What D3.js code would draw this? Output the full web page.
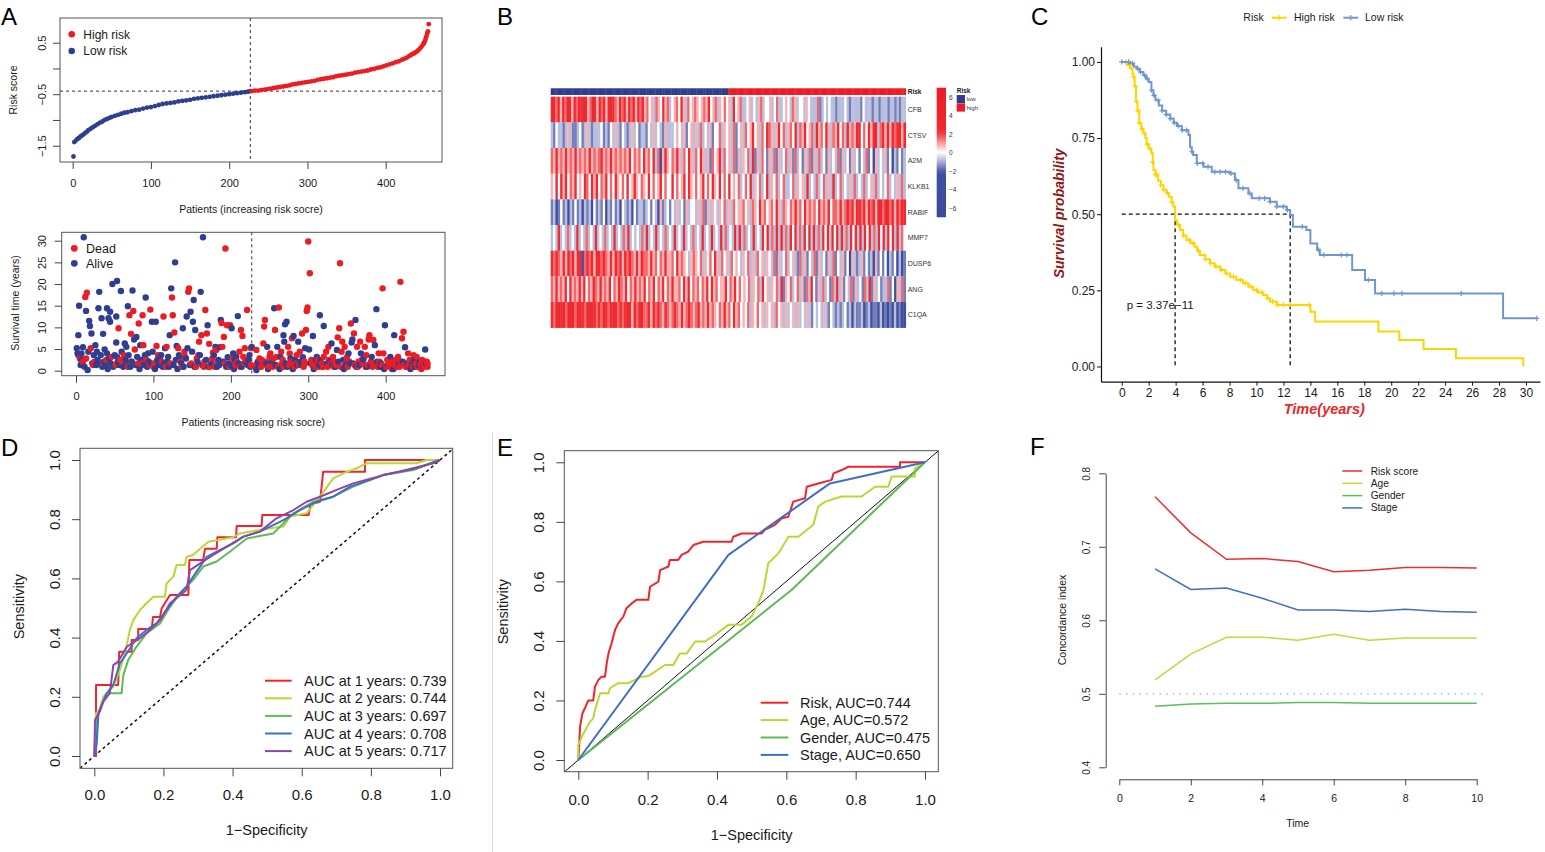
<!DOCTYPE html>
<html>
<head>
<meta charset="utf-8">
<script src="https://cdn.jsdelivr.net/npm/d3@7"></script>
<style>
  body { margin: 0; background: #fff; }
  svg { display: block; font-family: "Liberation Sans", Arial, sans-serif; }
</style>
</head>
<body>
<svg id="fig" width="1545" height="852"></svg>
<script>
// ---------------- data ----------------
// A: risk score per patient (index, score), sorted
const riskScores = [[1,-1.71],[2,-1.43],[4,-1.40],[6,-1.37],[8,-1.35],[10,-1.32],[12,-1.30],[14,-1.28],[16,-1.25],[18,-1.23],[20,-1.20],[23,-1.17],[26,-1.14],[29,-1.11],[32,-1.08],[35,-1.05],[38,-1.03],[41,-1.00],[44,-0.98],[47,-0.96],[50,-0.94],[54,-0.92],[58,-0.90],[62,-0.88],[66,-0.86],[70,-0.85],[75,-0.83],[80,-0.81],[85,-0.80],[90,-0.78],[95,-0.76],[100,-0.75],[105,-0.73],[110,-0.71],[115,-0.69],[120,-0.68],[125,-0.67],[130,-0.66],[135,-0.64],[140,-0.63],[145,-0.62],[150,-0.61],[155,-0.59],[160,-0.58],[165,-0.57],[170,-0.56],[175,-0.55],[180,-0.54],[185,-0.53],[190,-0.52],[195,-0.51],[200,-0.50],[205,-0.49],[210,-0.48],[215,-0.47],[220,-0.46],[224,-0.45],[227,-0.44],
  [229,-0.44],[233,-0.43],[237,-0.43],[241,-0.42],[245,-0.41],[249,-0.40],[253,-0.39],[257,-0.38],[261,-0.37],[265,-0.36],[269,-0.35],[273,-0.34],[277,-0.33],[281,-0.31],[285,-0.30],[289,-0.29],[293,-0.28],[297,-0.27],[301,-0.26],[305,-0.25],[309,-0.24],[313,-0.22],[317,-0.21],[321,-0.20],[325,-0.19],[329,-0.18],[333,-0.17],[337,-0.15],[341,-0.14],[345,-0.13],[349,-0.12],[353,-0.11],[357,-0.10],[361,-0.08],[365,-0.07],[369,-0.06],[373,-0.05],[377,-0.04],[381,-0.02],[385,-0.01],[389,0.01],[393,0.02],[397,0.04],[401,0.06],[405,0.08],[409,0.10],[413,0.12],[417,0.14],[421,0.17],[424,0.19],[427,0.21],[430,0.24],[432,0.26],[434,0.28],[436,0.29],[438,0.31],[440,0.33],[442,0.36],[444,0.39],[446,0.43],[448,0.47],[449,0.50],[450,0.53],[451,0.57],[452,0.62],[453,0.68],[454,0.72],[455,0.86]];
const lowRiskCount = 227;
const riskCutoff = -0.44;

// A: survival time (years) per patient: [index, years]
const deadPts = [[5,2.8],[12,17.0],[14,18.0],[19,5.2],[35,1.7],[55,9.8],[60,1.7],[69,12.8],[71,8.5],[74,13.8],[76,4.9],[81,10.9],[85,1.7],[86,12.8],[87,5.9],[96,14.1],[101,1.7],[104,5.7],[113,12.5],[117,5.5],[124,16.9],[125,12.8],[127,8.8],[132,5.2],[141,3.2],[145,18.2],[146,19.0],[156,2.8],[159,6.7],[162,8.2],[165,0.9],[167,14.0],[169,8.6],[172,6.2],[173,0.9],[177,4.2],[181,4.8],[188,11.0],[189,5.5],[191,7.8],[193,28.2],[195,10.5],[199,10.5],[211,4.4],[213,9.4],[215,8.0],[216,3.2],[218,5.2],[221,14.0],[226,5.2],
  [6,3.2],[9,2.1],[13,2.8],[22,1.3],[24,2.1],[39,2.5],[46,3.2],[51,1.3],[57,2.5],[62,3.6],[67,0.9],[71,2.1],[80,1.7],[91,2.5],[95,1.3],[100,0.9],[106,3.6],[111,2.1],[116,0.9],[122,1.7],[135,2.1],[137,0.9],[140,4.4],[149,1.7],[155,0.9],[158,3.6],[166,2.1],[174,1.3],[176,2.8],[179,0.9],[183,2.1],[192,1.7],[198,0.9],[202,2.8],[206,1.3],[208,2.1],[212,0.9],[217,1.7],[220,2.5],[226,1.3],
  [233,4.8],[240,2.5],[242,6.3],[243,10.2],[244,11.7],[250,3.2],[251,4.0],[254,0.9],[257,9.4],[259,3.2],[262,14.6],[265,4.4],[267,2.5],[274,5.5],[276,4.0],[279,7.5],[285,3.6],[289,4.4],[292,8.6],[295,2.1],[297,9.4],[298,13.8],[299,14.6],[300,29.8],[302,22.5],[304,2.5],[308,1.7],[313,0.9],[320,3.2],[323,4.4],[326,5.5],[332,3.2],[338,7.7],[340,9.8],[341,24.8],[343,4.4],[344,6.7],[347,5.5],[350,3.1],[355,10.9],[359,8.6],[363,5.5],[365,2.1],[367,6.7],[370,1.7],[373,5.5],[375,3.6],[378,7.2],[379,8.2],[384,7.1],[385,1.7],[391,4.0],[396,19.0],[397,4.0],[402,2.5],[405,1.7],[409,0.9],[413,2.5],[416,3.2],[419,20.5],[421,7.5],[423,9.0],[426,0.9],[429,4.0],[431,2.5],[436,3.6],[440,3.2],[442,1.7],[447,2.5],[449,0.9],[453,2.1],[454,0.9],[454,1.7],
  [231,0.9],[234,1.7],[237,2.8],[239,0.9],[241,1.3],[245,2.1],[249,0.9],[252,1.3],[255,2.8],[261,0.9],[266,1.7],[268,0.9],[275,1.3],[278,2.1],[282,0.9],[284,1.7],[288,1.3],[294,0.9],[296,1.7],[305,1.3],[309,0.9],[312,2.5],[317,1.7],[319,0.9],[322,1.3],[325,0.9],[327,2.5],[329,1.7],[333,0.9],[334,2.1],[336,1.3],[342,0.9],[348,1.7],[351,0.9],[353,2.1],[360,1.3],[364,0.9],[369,2.5],[374,0.9],[377,1.3],[381,2.1],[383,0.9],[387,1.3],[390,0.9],[392,2.1],[395,1.3],[401,0.9],[404,1.3],[407,2.1],[408,0.4],[412,1.3],[414,0.9],[415,1.7],[418,0.9],[420,2.1],[424,1.3],[427,0.9],[430,1.3],[433,2.1],[435,0.9],[439,1.7],[441,0.9],[445,1.3],[446,0.4],[450,1.3],[451,2.1]];
const alivePts = [[1,5.2],[2,4.0],[3,8.2],[4,15.0],[7,4.0],[7,2.5],[9,5.4],[10,30.8],[13,13.8],[15,0.15],[17,11.5],[18,10.3],[20,8.6],[25,5.9],[27,4.4],[29,14.4],[30,18.2],[31,1.5],[33,12.1],[35,8.5],[37,4.9],[40,14.4],[40,4.0],[42,12.1],[44,13.6],[44,11.3],[47,20.0],[52,12.5],[53,20.7],[52,6.5],[53,3.2],[58,18.4],[63,6.3],[65,5.5],[67,14.9],[73,18.5],[75,7.2],[78,7.8],[83,5.9],[90,16.9],[93,4.0],[98,11.3],[103,11.3],[108,2.8],[115,5.2],[119,3.2],[121,8.2],[123,19.0],[128,25.0],[130,5.7],[134,3.2],[138,9.8],[143,12.5],[144,5.2],[148,13.6],[151,11.3],[152,16.3],[154,9.4],[160,3.6],[161,18.2],[164,30.8],[170,10.5],[180,5.5],[184,2.5],[186,5.4],[187,11.7],[196,3.1],[201,9.8],[203,4.0],[205,2.5],[209,12.6],[223,2.5],[225,0.9],[227,5.5],
  [3,3.6],[6,1.3],[8,2.1],[11,0.9],[16,4.4],[21,1.7],[23,3.6],[26,1.3],[28,2.5],[32,3.6],[34,0.9],[36,2.1],[38,1.3],[41,0.4],[43,2.8],[45,1.7],[48,0.9],[50,3.6],[54,2.1],[56,1.3],[59,4.4],[61,0.9],[64,2.5],[66,1.7],[68,3.6],[70,0.9],[72,2.1],[77,1.3],[79,3.2],[82,0.4],[84,2.5],[88,1.3],[89,3.6],[92,0.9],[94,2.1],[97,1.7],[99,4.4],[102,0.4],[105,2.5],[107,1.3],[110,3.6],[112,0.9],[114,1.7],[118,2.1],[120,0.9],[126,1.3],[129,2.5],[131,0.4],[133,3.6],[136,1.7],[139,0.9],[142,2.8],[147,1.3],[150,4.4],[153,0.9],[157,2.1],[163,1.3],[168,2.5],[171,0.9],[175,1.7],[178,3.6],[182,0.9],[185,1.3],[190,2.1],[194,0.9],[197,1.7],[200,1.3],[204,0.4],[207,3.2],[210,1.7],[214,0.9],[219,2.1],[222,1.3],[224,3.6],
  [233,0.15],[236,1.3],[246,1.7],[247,5.5],[256,14.4],[260,5.5],[264,3.2],[268,8.2],[269,6.7],[270,10.7],[272,11.3],[273,0.9],[281,8.0],[283,2.5],[287,6.7],[291,1.3],[293,3.1],[296,5.2],[301,4.9],[306,8.0],[311,3.2],[315,12.8],[316,2.5],[320,10.3],[328,2.1],[330,6.3],[335,0.9],[337,4.8],[345,2.5],[352,4.0],[354,1.7],[356,6.5],[357,7.2],[361,11.7],[368,4.0],[372,3.2],[382,3.2],[386,5.9],[388,14.2],[393,0.9],[399,10.5],[400,0.9],[406,3.2],[411,8.2],[425,5.4],[434,1.3],[438,0.9],[444,2.1],[451,4.9],
  [235,2.1],[238,0.9],[248,0.4],[253,2.1],[258,1.3],[263,0.4],[271,1.7],[277,2.8],[280,0.4],[286,1.3],[290,2.1],[303,1.7],[307,0.4],[310,2.5],[314,1.3],[318,0.9],[324,1.7],[331,1.3],[339,2.1],[346,0.4],[349,1.3],[358,1.7],[362,0.9],[366,1.3],[371,2.5],[376,0.9],[380,1.3],[389,2.1],[394,1.7],[398,0.4],[403,1.3],[410,0.4],[417,1.3],[422,2.1],[428,1.7],[432,0.4],[437,2.5],[443,1.3],[448,0.9],[452,1.7]];

// B: heatmap, one code string per gene, sampled across the patients (0..8, 4 = 0)
const genes = ["CFB","CTSV","A2M","KLKB1","RABIF","MMP7","DUSP6","ANG","C1QA"];
const exprCodes = [
  "786857687586777856875768578765867576858675645365475634564753645654565745635464537456334534356344534633454365344354333623434332333432333324333233233323323233",
  "324332353223423532333423243532432353423324353432533345435245353634352446354536245364574536476535746356473657456375647536574637565784647578367585767857",
  "657565756575656575656756575656565746564756473615754657536475364753526457364536253546372536425362534635263425362536342534362534253424362415343524132423",
  "547475746574547647574657464754647457546547464574644746457475464574647547464745463464735463473546346334635453734363463538346343536343634536343463435363",
  "231242313242313231423241324231432314233234243152342435342534435362535435463536455645365475645647536546575647565647565746657568675786757685786786758687",
  "343734363437343634373436343734363734343637343734363437343734363437343734373634373736343734374736373736374736374737363747374737363747373747363747374737364",
  "768657586857816768577686575867576865758665756465755647565435654635464753645364543546353645354362534634532635243625342536243524153235242315242413241312",
  "657565747565757465765756574657657465756574657465746575564757465646574756455746574645463546374535463725463463526374253634263735243625342637253423362415362",
  "768778687867876877867687678768678757678667576865765676575686567565756546575647564546354645354536453534535343532434353243232342313223123122131202131201"
];
const riskSplit = 0.5;   // share of patients in the low-risk group
const heatLegendTicks = [-6, -4, -2, 0, 2, 4, 6];

// C: Kaplan–Meier steps [time, survival] and censor times
const kmHigh = [[0,1],[0.4,0.99],[0.6,0.98],[0.8,0.96],[0.87,0.95],[0.95,0.92],[1.06,0.87],[1.16,0.84],[1.3,0.80],[1.45,0.78],[1.6,0.765],[1.75,0.75],[1.85,0.73],[2.0,0.715],[2.2,0.70],[2.3,0.67],[2.35,0.645],[2.5,0.63],[2.7,0.61],[2.9,0.595],[3.1,0.58],[3.3,0.57],[3.5,0.557],[3.7,0.54],[3.83,0.525],[3.96,0.48],[4.1,0.465],[4.33,0.448],[4.55,0.43],[4.8,0.415],[5.1,0.405],[5.4,0.393],[5.6,0.38],[5.8,0.366],[6.2,0.352],[6.55,0.339],[6.9,0.328],[7.3,0.317],[7.7,0.305],[8.04,0.295],[8.5,0.284],[9.0,0.273],[9.4,0.262],[9.77,0.251],[10.1,0.243],[10.5,0.235],[10.8,0.224],[11.0,0.213],[11.5,0.202],[14.0,0.18],[14.35,0.148],[19.05,0.115],[20.6,0.087],[22.4,0.057],[24.8,0.027],[29.8,0.0]];
const kmLow = [[0,1],[0.6,0.995],[0.9,0.985],[1.1,0.978],[1.35,0.967],[1.6,0.956],[1.8,0.945],[2.0,0.934],[2.2,0.907],[2.35,0.89],[2.5,0.874],[2.75,0.857],[3.0,0.84],[3.3,0.827],[3.6,0.814],[3.85,0.80],[4.1,0.79],[4.45,0.776],[4.95,0.76],[5.07,0.72],[5.2,0.705],[5.3,0.694],[5.57,0.667],[6.06,0.656],[6.68,0.639],[8.04,0.634],[8.4,0.612],[8.66,0.585],[9.4,0.568],[9.65,0.552],[11.0,0.541],[11.5,0.525],[12.24,0.514],[12.5,0.497],[12.7,0.459],[13.7,0.448],[14.0,0.404],[14.5,0.383],[14.7,0.366],[17.1,0.317],[18.05,0.284],[18.8,0.24],[28.3,0.158],[30.8,0.158]];
const censorHigh = [0.3,0.7,0.9,1.0,1.1,1.2,1.3,1.5,1.7,1.9,2.1,2.3,2.5,2.6,2.9,3.1,3.4,3.7,4.2,4.6,5.0,5.3,5.7,6.2,6.6,7.0,7.4,7.8,8.3,8.8,9.2,9.6,10.0,10.4,10.8,11.2,11.6,12.0,12.5,13.9];
const censorLow = [0.0,0.5,0.8,1.2,1.4,1.7,1.9,2.2,2.4,2.7,3.0,3.3,3.6,3.9,4.2,4.5,4.8,5.2,5.6,6.0,6.4,6.9,7.3,7.7,8.1,8.5,9.0,9.5,10.2,10.6,11.0,11.5,12.0,12.3,13.4,14.6,15.0,16.3,16.7,18.3,19.3,20.2,20.8,25.2,30.8];
const kmPvalue = "p = 3.37e\u221211";
const kmTicks = [0,2,4,6,8,10,12,14,16,18,20,22,24,26,28,30];

// D: time-dependent ROC [fpr, tpr]
const roc1yr = [[0,0],[0.005,0],[0.005,0.24],[0.069,0.24],[0.072,0.352],[0.108,0.352],[0.108,0.392],[0.127,0.392],[0.127,0.429],[0.166,0.429],[0.17,0.47],[0.19,0.47],[0.195,0.499],[0.219,0.544],[0.272,0.544],[0.275,0.662],[0.315,0.662],[0.32,0.70],[0.354,0.70],[0.356,0.739],[0.41,0.739],[0.412,0.777],[0.484,0.777],[0.486,0.814],[0.62,0.814],[0.625,0.85],[0.653,0.859],[0.662,0.96],[0.783,0.96],[0.783,1.0],[1,1]];
const roc2yr = [[0,0],[0.005,0.144],[0.016,0.155],[0.026,0.2],[0.055,0.234],[0.074,0.29],[0.089,0.347],[0.103,0.426],[0.113,0.459],[0.132,0.493],[0.151,0.516],[0.171,0.538],[0.204,0.538],[0.209,0.583],[0.229,0.606],[0.238,0.645],[0.262,0.645],[0.267,0.673],[0.286,0.679],[0.306,0.70],[0.33,0.724],[0.402,0.739],[0.421,0.752],[0.479,0.764],[0.547,0.775],[0.566,0.809],[0.614,0.82],[0.653,0.876],[0.691,0.938],[0.73,0.96],[0.759,0.972],[0.788,0.989],[0.932,0.989],[0.961,1.0],[1,1]];
const roc3yr = [[0,0],[0.007,0.122],[0.016,0.161],[0.036,0.212],[0.079,0.212],[0.084,0.274],[0.098,0.324],[0.122,0.369],[0.151,0.414],[0.19,0.448],[0.219,0.504],[0.248,0.55],[0.286,0.595],[0.315,0.64],[0.354,0.657],[0.392,0.69],[0.441,0.735],[0.518,0.752],[0.576,0.82],[0.634,0.859],[0.691,0.876],[0.749,0.91],[0.836,0.949],[0.923,0.966],[0.984,0.994],[1,1]];
const roc4yr = [[0.002,0],[0.007,0.043],[0.012,0.144],[0.036,0.212],[0.055,0.24],[0.074,0.313],[0.094,0.347],[0.122,0.398],[0.151,0.426],[0.18,0.448],[0.209,0.493],[0.238,0.538],[0.267,0.572],[0.286,0.606],[0.306,0.64],[0.325,0.673],[0.364,0.696],[0.402,0.718],[0.431,0.741],[0.479,0.758],[0.547,0.797],[0.595,0.831],[0.643,0.859],[0.691,0.876],[0.74,0.91],[0.836,0.949],[0.932,0.972],[1,1]];
const roc5yr = [[0,0],[0.002,0.122],[0.016,0.15],[0.026,0.184],[0.045,0.212],[0.055,0.307],[0.069,0.319],[0.094,0.369],[0.132,0.398],[0.161,0.426],[0.19,0.459],[0.219,0.516],[0.267,0.561],[0.277,0.628],[0.306,0.651],[0.344,0.679],[0.392,0.713],[0.431,0.741],[0.479,0.758],[0.527,0.803],[0.576,0.831],[0.614,0.859],[0.653,0.876],[0.701,0.899],[0.749,0.921],[0.836,0.949],[0.884,0.961],[0.981,0.989],[1,1]];
const rocYears = [1, 2, 3, 4, 5];
const rocYearAUC = [0.739, 0.744, 0.697, 0.708, 0.717];

// E: ROC of clinical factors
const rocRisk = [[0,0],[0.002,0.034],[0.005,0.112],[0.012,0.157],[0.019,0.174],[0.029,0.2],[0.043,0.2],[0.048,0.246],[0.058,0.269],[0.067,0.28],[0.077,0.28],[0.082,0.325],[0.087,0.358],[0.096,0.392],[0.106,0.437],[0.115,0.459],[0.13,0.482],[0.139,0.51],[0.154,0.526],[0.168,0.538],[0.202,0.538],[0.207,0.582],[0.231,0.599],[0.236,0.638],[0.26,0.65],[0.264,0.672],[0.288,0.672],[0.298,0.689],[0.317,0.70],[0.332,0.722],[0.36,0.733],[0.442,0.733],[0.447,0.75],[0.471,0.761],[0.529,0.761],[0.538,0.773],[0.567,0.79],[0.587,0.812],[0.606,0.817],[0.62,0.868],[0.654,0.879],[0.659,0.918],[0.692,0.929],[0.731,0.941],[0.736,0.963],[0.76,0.974],[0.779,0.985],[0.928,0.985],[0.928,1.0],[1,1]];
const rocAge = [[0,0],[0,0.05],[0.01,0.078],[0.034,0.129],[0.043,0.14],[0.048,0.168],[0.063,0.224],[0.087,0.224],[0.091,0.241],[0.115,0.258],[0.144,0.258],[0.183,0.28],[0.202,0.282],[0.25,0.319],[0.274,0.319],[0.293,0.358],[0.313,0.358],[0.337,0.398],[0.365,0.398],[0.394,0.42],[0.433,0.454],[0.471,0.454],[0.5,0.482],[0.519,0.526],[0.534,0.571],[0.548,0.661],[0.577,0.694],[0.606,0.75],[0.635,0.75],[0.678,0.79],[0.692,0.851],[0.712,0.868],[0.76,0.885],[0.817,0.885],[0.856,0.918],[0.894,0.918],[0.904,0.952],[0.971,0.952],[0.971,0.98],[1,1]];
const rocGender = [[0,0],[0.615,0.571],[1,1]];
const rocStage = [[0,0],[0.433,0.689],[0.726,0.929],[1,1]];
const factorNames = ["Risk", "Age", "Gender", "Stage"];
const factorAUC = [0.744, 0.572, 0.475, 0.650];

// F: concordance index over time
const cTimes = [1,2,3,4,5,6,7,8,9,10];
const cRisk = [0.768,0.719,0.683,0.684,0.680,0.666,0.668,0.672,0.672,0.671];
const cAge = [0.519,0.554,0.577,0.577,0.573,0.581,0.573,0.576,0.576,0.576];
const cGender = [0.483,0.486,0.487,0.487,0.488,0.488,0.487,0.487,0.487,0.487];
const cStage = [0.670,0.642,0.644,0.630,0.614,0.614,0.612,0.615,0.612,0.611];
const cNames = ["Risk score", "Age", "Gender", "Stage"];

// ---------------- drawing ----------------
const svg = d3.select("#fig");
const RED = "#EC1C24", NAVY = "#2F3E90";
const lineCols = ["#F0242A", "#BDD536", "#5DBB57", "#3D6FC8", "#8E45AB"];
const INK = "#1a1a1a";
const MINUS = s => String(s).replace("-", "\u2212");

function box(x0, y0, x1, y1) {
  svg.append("rect").attr("x", x0).attr("y", y0)
    .attr("width", x1 - x0).attr("height", y1 - y0)
    .attr("fill", "none").attr("stroke", "#555").attr("stroke-width", 1);
}

function bottomAxis(scale, y, ticks, fmt, size, labelY, fs, keepDomain) {
  const g = svg.append("g").attr("transform", `translate(0,${y})`)
    .call(d3.axisBottom(scale).tickValues(ticks).tickFormat(fmt).tickSize(size).tickSizeOuter(0));
  g.attr("font-size", null).attr("font-family", null);
  if (!keepDomain) g.select(".domain").remove();
  g.selectAll("line").attr("stroke", "#444");
  g.selectAll("text").attr("y", labelY - y).attr("dy", "0.35em")
    .attr("font-size", fs).attr("fill", INK);
  return g;
}

function leftAxisRot(scale, x, ticks, fmt, size, labelX, fs) {
  const g = svg.append("g").attr("transform", `translate(${x},0)`)
    .call(d3.axisLeft(scale).tickValues(ticks).tickFormat(fmt).tickSize(size).tickSizeOuter(0));
  g.attr("font-size", null).attr("font-family", null);
  g.select(".domain").remove();
  g.selectAll("line").attr("stroke", "#444");
  g.selectAll("text").attr("transform", "rotate(-90)")
    .attr("x", 0).attr("y", labelX - x).attr("dy", "0.35em")
    .attr("text-anchor", "middle").attr("font-size", fs).attr("fill", INK);
  return g;
}

function text(x, y, s, fs, opts = {}) {
  const t = svg.append("text").attr("x", x).attr("y", y).attr("dy", "0.35em")
    .attr("font-size", fs).attr("fill", opts.fill || INK)
    .attr("text-anchor", opts.anchor || "start").text(s);
  if (opts.rotate) t.attr("transform", `rotate(-90,${x},${y})`);
  if (opts.weight) t.attr("font-weight", opts.weight);
  if (opts.style) t.attr("font-style", opts.style);
  return t;
}

// panel letters
[["A", 1, 25], ["B", 497, 25], ["C", 1031, 25], ["D", 1, 456], ["E", 497, 456], ["F", 1030, 455]]
  .forEach(([s, x, y]) => svg.append("text").attr("x", x).attr("y", y).attr("font-size", 24).text(s));

svg.append("line").attr("x1", 492.5).attr("x2", 492.5).attr("y1", 432).attr("y2", 852)
  .attr("stroke", "#d8d8d8").attr("stroke-width", 1);

// ---------- A (top): risk score ----------
{
  const x = d3.scaleLinear().domain([0, 400]).range([72.7, 385.7]);
  const y = d3.scaleLinear().domain([-1.5, 0.5]).range([145.7, 42.7]);
  svg.append("line").attr("x1", x(lowRiskCount)).attr("x2", x(lowRiskCount)).attr("y1", 18).attr("y2", 162)
    .attr("stroke", "#333").attr("stroke-dasharray", "3,3");
  svg.append("line").attr("x1", 60).attr("x2", 442).attr("y1", y(riskCutoff)).attr("y2", y(riskCutoff))
    .attr("stroke", "#333").attr("stroke-dasharray", "3,3");
  svg.append("g").selectAll("circle").data(riskScores).join("circle")
    .attr("cx", d => x(d[0])).attr("cy", d => y(d[1])).attr("r", 2.4)
    .attr("fill", d => d[0] <= lowRiskCount ? NAVY : RED);
  box(60, 18, 442, 162);
  bottomAxis(x, 162, [0, 100, 200, 300, 400], d3.format("d"), 7, 182.7, 11);
  leftAxisRot(y, 60, [-1.5, -1, -0.5, 0, 0.5], d => [-1.5, -0.5, 0.5].includes(d) ? MINUS(d) : "", 7, 41.7, 11);
  text(251, 209.3, "Patients (increasing risk socre)", 10.5, { anchor: "middle" });
  text(13.3, 90, "Risk score", 10.5, { anchor: "middle", rotate: true });
  [["High risk", RED], ["Low risk", NAVY]].forEach(([s, c], i) => {
    svg.append("circle").attr("cx", 71.7).attr("cy", 34.3 + i * 16.7).attr("r", 3.3).attr("fill", c);
    text(83.3, 34.3 + i * 16.7, s, 12);
  });
}

// ---------- A (bottom): survival status ----------
{
  const x = d3.scaleLinear().domain([0, 400]).range([76, 385.7]);
  const y = d3.scaleLinear().domain([0, 30]).range([370.7, 240.7]);
  const pts = deadPts.map(d => ({ p: d[0], t: d[1], dead: true }))
    .concat(alivePts.map(d => ({ p: d[0], t: d[1], dead: false })))
    .sort((a, b) => a.p - b.p);
  svg.append("line").attr("x1", x(lowRiskCount)).attr("x2", x(lowRiskCount)).attr("y1", 232.3).attr("y2", 375.7)
    .attr("stroke", "#333").attr("stroke-dasharray", "3,3");
  svg.append("g").selectAll("circle").data(pts).join("circle")
    .attr("cx", d => x(d.p)).attr("cy", d => y(d.t)).attr("r", 3.2)
    .attr("fill", d => d.dead ? RED : NAVY);
  box(61.7, 232.3, 445, 375.7);
  bottomAxis(x, 375.7, [0, 100, 200, 300, 400], d3.format("d"), 7, 395.7, 11);
  leftAxisRot(y, 61.7, [0, 5, 10, 15, 20, 25, 30], d3.format("d"), 7, 41.7, 11);
  text(253.3, 422.7, "Patients (increasing risk socre)", 10.5, { anchor: "middle" });
  text(15.7, 303, "Survival time (years)", 10.5, { anchor: "middle", rotate: true });
  [["Dead", RED], ["Alive", NAVY]].forEach(([s, c], i) => {
    svg.append("circle").attr("cx", 74.3).attr("cy", 248.3 + i * 15).attr("r", 3.4).attr("fill", c);
    text(86, 248.3 + i * 15, s, 12.5);
  });
}

// ---------- B: heatmap ----------
{
  const x0 = 550.7, x1 = 905.7;
  const y = d3.scaleBand().domain(genes).range([96.7, 327.7]);
  const color = d3.scaleLinear().domain([-7, -2.2, 0, 2.2, 7])
    .range(["#3B4A9B", "#3F4FA0", "#FFFFFF", "#EE2C31", "#EC1C24"]).clamp(true);
  const hg = svg.append("g");
  genes.forEach((gname, gi) => {
    const codes = exprCodes[gi].split("");
    const x = d3.scaleBand().domain(d3.range(codes.length)).range([x0, x1]);
    hg.append("g").selectAll("rect").data(codes).join("rect")
      .attr("x", (d, i) => x(i)).attr("y", y(gname))
      .attr("width", x.bandwidth() + 0.35).attr("height", y.bandwidth() + 0.2)
      .attr("fill", d => color((+d - 4) * 0.8));
  });
  const nAnn = exprCodes[0].length;
  const xa = d3.scaleBand().domain(d3.range(nAnn)).range([x0, x1]);
  svg.append("g").selectAll("rect").data(d3.range(nAnn)).join("rect")
    .attr("x", d => xa(d)).attr("y", 88.3).attr("width", xa.bandwidth() + 0.35).attr("height", 6.7)
    .attr("fill", d => d < nAnn * riskSplit ? NAVY : RED);
  text(907.7, 91.7, "Risk", 6.5, { weight: "bold" });
  genes.forEach(gname => text(907.7, y(gname) + y.bandwidth() / 2, gname, 7, { fill: "#333" }));

  // colour key
  const ky = d3.scaleLinear().domain([-7, 7]).range([217.3, 87.7]);
  const grad = svg.append("defs").append("linearGradient").attr("id", "heatKey")
    .attr("x1", 0).attr("x2", 0).attr("y1", 0).attr("y2", 1);
  d3.range(7, -7.01, -0.5).forEach(v => grad.append("stop")
    .attr("offset", (7 - v) / 14).attr("stop-color", color(v)));
  svg.append("rect").attr("x", 936.7).attr("y", 87.7).attr("width", 9.3).attr("height", 129.6)
    .attr("fill", "url(#heatKey)");
  const kg = svg.append("g").attr("transform", "translate(946,0)")
    .call(d3.axisRight(ky).tickValues(heatLegendTicks).tickFormat(MINUS).tickSize(0).tickPadding(3));
  kg.attr("font-size", null).attr("font-family", null);
  kg.select(".domain").remove();
  kg.selectAll("text").attr("font-size", 6.5).attr("fill", "#333");
  text(956.7, 90.5, "Risk", 6.5, { weight: "bold" });
  [["low", NAVY], ["high", RED]].forEach(([s, c], i) => {
    svg.append("rect").attr("x", 956.7).attr("y", 95 + i * 8.4).attr("width", 8.3).attr("height", 8.2).attr("fill", c);
    text(966.7, 99 + i * 8.6, s, 6, { fill: "#333" });
  });
}

// ---------- C: Kaplan–Meier ----------
{
  const x = d3.scaleLinear().domain([-1.54, 31.04]).range([1101, 1540]);
  const y = d3.scaleLinear().domain([-0.05, 1.05]).range([381.7, 46.7]);
  const YEL = "#FFD500", BLU = "#7096D0";
  const surv = (km, t) => km[Math.max(0, d3.bisector(d => d[0]).right(km, t) - 1)][1];
  const median = km => km.find(d => d[1] <= 0.5)[0];
  const mH = median(kmHigh), mL = median(kmLow);
  const dash = sel => sel.attr("stroke", "#111").attr("stroke-width", 1.3).attr("stroke-dasharray", "4,3");
  svg.append("line").attr("x1", x(0)).attr("x2", x(mL)).attr("y1", y(0.5)).attr("y2", y(0.5)).call(dash);
  [mH, mL].forEach(m => svg.append("line").attr("x1", x(m)).attr("x2", x(m))
    .attr("y1", y(0.5)).attr("y2", y(0)).call(dash));
  const line = d3.line().x(d => x(d[0])).y(d => y(d[1])).curve(d3.curveStepAfter);
  const plus = (g, cx, cy, c) => {
    g.append("path").attr("d", `M${cx - 2.6},${cy}H${cx + 2.6}M${cx},${cy - 2.6}V${cy + 2.6}`)
      .attr("stroke", c).attr("stroke-width", 1.2);
  };
  [[kmHigh, censorHigh, YEL], [kmLow, censorLow, BLU]].forEach(([km, cen, c]) => {
    svg.append("path").datum(km).attr("d", line).attr("fill", "none")
      .attr("stroke", c).attr("stroke-width", 2);
    const g = svg.append("g");
    cen.forEach(t => plus(g, x(t), y(surv(km, t)), c));
  });
  const gx = bottomAxis(x, 381.7, kmTicks, d3.format("d"), 4, 393.3, 12, true);
  gx.select(".domain").attr("stroke", "#111").attr("stroke-width", 1.2);
  gx.selectAll("line").attr("stroke", "#111");
  const gy = svg.append("g").attr("transform", "translate(1101,0)")
    .call(d3.axisLeft(y).tickValues([0, 0.25, 0.5, 0.75, 1]).tickFormat(d3.format(".2f")).tickSize(4).tickSizeOuter(0));
  gy.attr("font-size", null).attr("font-family", null);
  gy.select(".domain").attr("stroke", "#111").attr("stroke-width", 1.2);
  gy.selectAll("line").attr("stroke", "#111");
  gy.selectAll("text").attr("x", -6).attr("font-size", 12).attr("fill", "#222");
  text(1126.7, 305, kmPvalue, 11.5);
  text(1324.3, 409.3, "Time(years)", 14.5, { anchor: "middle", weight: "bold", style: "italic", fill: "#E8262A" });
  text(1059.3, 213.3, "Survival probability", 14, { anchor: "middle", weight: "bold", style: "italic", fill: "#8B1A1A", rotate: true });
  text(1243.3, 17.7, "Risk", 10.5);
  const lg = svg.append("g");
  [[1271.7, 1294, "High risk", YEL], [1343.3, 1365, "Low risk", BLU]].forEach(([lx, tx, s, c]) => {
    lg.append("line").attr("x1", lx).attr("x2", lx + 15).attr("y1", 17.7).attr("y2", 17.7)
      .attr("stroke", c).attr("stroke-width", 2);
    plus(lg, lx + 7.5, 17.7, c);
    text(tx, 17.7, s, 10.5);
  });
}

// ---------- D / E: ROC panels ----------
function rocPanel(x, y, bx, curves, cols, labels, diagDash, leg, ticksY, labelX, titles) {
  const [x0, y0, x1, y1] = bx;
  const lo = Math.max(x.invert(x0), y.invert(y1)), hi = Math.min(x.invert(x1), y.invert(y0));
  const diag = svg.append("line").attr("x1", x(lo)).attr("y1", y(lo)).attr("x2", x(hi)).attr("y2", y(hi))
    .attr("stroke", "#111");
  if (diagDash) diag.attr("stroke-width", 1.5).attr("stroke-dasharray", "3,3");
  else diag.attr("stroke-width", 1);
  const line = d3.line().x(d => x(d[0])).y(d => y(d[1]));
  curves.forEach((c, i) => svg.append("path").datum(c).attr("d", line).attr("fill", "none")
    .attr("stroke", cols[i]).attr("stroke-width", 2).attr("stroke-linejoin", "round"));
  box(x0, y0, x1, y1);
  const ticks = [0, 0.2, 0.4, 0.6, 0.8, 1];
  bottomAxis(x, y1, ticks, d3.format(".1f"), 8, ticksY, 15);
  leftAxisRot(y, x0, ticks, d3.format(".1f"), 8, labelX, 15);
  labels.forEach((s, i) => {
    const ly = leg.top + i * leg.step;
    svg.append("line").attr("x1", leg.x0).attr("x2", leg.x1).attr("y1", ly).attr("y2", ly)
      .attr("stroke", cols[i]).attr("stroke-width", 2);
    text(leg.tx, ly, s, 14.5);
  });
  text(titles[0], titles[1], "1\u2212Specificity", 14.5, { anchor: "middle" });
  text(titles[2], titles[3], "Sensitivity", 14.5, { anchor: "middle", rotate: true });
}
{
  const x = d3.scaleLinear().domain([0, 1]).range([94.3, 440]);
  const y = d3.scaleLinear().domain([0, 1]).range([756, 460]);
  rocPanel(x, y, [80, 448.3, 452.7, 768.3], [roc1yr, roc2yr, roc3yr, roc4yr, roc5yr], lineCols,
    rocYears.map((yr, i) => `AUC at ${yr} years: ${rocYearAUC[i].toFixed(3)}`), true,
    { x0: 265, x1: 291.7, tx: 304, top: 680.7, step: 17.6 }, 795, 54.3, [266.7, 830, 19.3, 606.7]);
}
{
  const x = d3.scaleLinear().domain([0, 1]).range([578.3, 925]);
  const y = d3.scaleLinear().domain([0, 1]).range([760, 462.3]);
  rocPanel(x, y, [564.3, 450.7, 938.3, 771.7], [rocRisk, rocAge, rocGender, rocStage], lineCols.slice(0, 4),
    factorNames.map((f, i) => `${f}, AUC=${factorAUC[i].toFixed(3)}`), false,
    { x0: 760.7, x1: 788.3, tx: 800, top: 702.7, step: 17.4 }, 799.3, 538.3, [751.7, 835, 503.3, 611.7]);
}

// ---------- F: concordance index ----------
{
  const x = d3.scaleLinear().domain([0, 10]).range([1119.3, 1476.7]);
  const y = d3.scaleLinear().domain([0.4, 0.8]).range([767.3, 473.3]);
  const cols = ["#E8312F", "#C3D83A", "#5CBF5A", "#3F6FC4"];
  svg.append("line").attr("x1", x(0)).attr("x2", x(10.3)).attr("y1", y(0.5)).attr("y2", y(0.5))
    .attr("stroke", "#aaa").attr("stroke-width", 1.2).attr("stroke-dasharray", "1.5,5.2");
  const line = d3.line().x((d, i) => x(cTimes[i])).y(d => y(d));
  [cRisk, cAge, cGender, cStage].forEach((s, i) => svg.append("path").datum(s).attr("d", line)
    .attr("fill", "none").attr("stroke", cols[i]).attr("stroke-width", 1.5));
  const gx = bottomAxis(x, 779.3, [0, 2, 4, 6, 8, 10], d3.format("d"), 6, 798.3, 10.5, true);
  gx.select(".domain").attr("stroke", "#444");
  const gy = svg.append("g").attr("transform", "translate(1105.7,0)")
    .call(d3.axisLeft(y).tickValues([0.4, 0.5, 0.6, 0.7, 0.8]).tickFormat(d3.format(".1f")).tickSize(6.5).tickSizeOuter(0));
  gy.attr("font-size", null).attr("font-family", null);
  gy.selectAll("line").attr("stroke", "#444");
  gy.select(".domain").attr("stroke", "#444");
  gy.selectAll("text").attr("transform", "rotate(-90)").attr("x", 0).attr("y", 1086.7 - 1105.7)
    .attr("dy", "0.35em").attr("text-anchor", "middle").attr("font-size", 10).attr("fill", INK);
  text(1297.7, 823.3, "Time", 10.5, { anchor: "middle" });
  text(1062.3, 620, "Concordance index", 10.5, { anchor: "middle", rotate: true });
  cNames.forEach((s, i) => {
    const ly = 471 + i * 12.3;
    svg.append("line").attr("x1", 1342.3).attr("x2", 1362.3).attr("y1", ly).attr("y2", ly)
      .attr("stroke", cols[i]).attr("stroke-width", 1.5);
    text(1370.7, ly, s, 10.2);
  });
}
</script>
</body>
</html>
